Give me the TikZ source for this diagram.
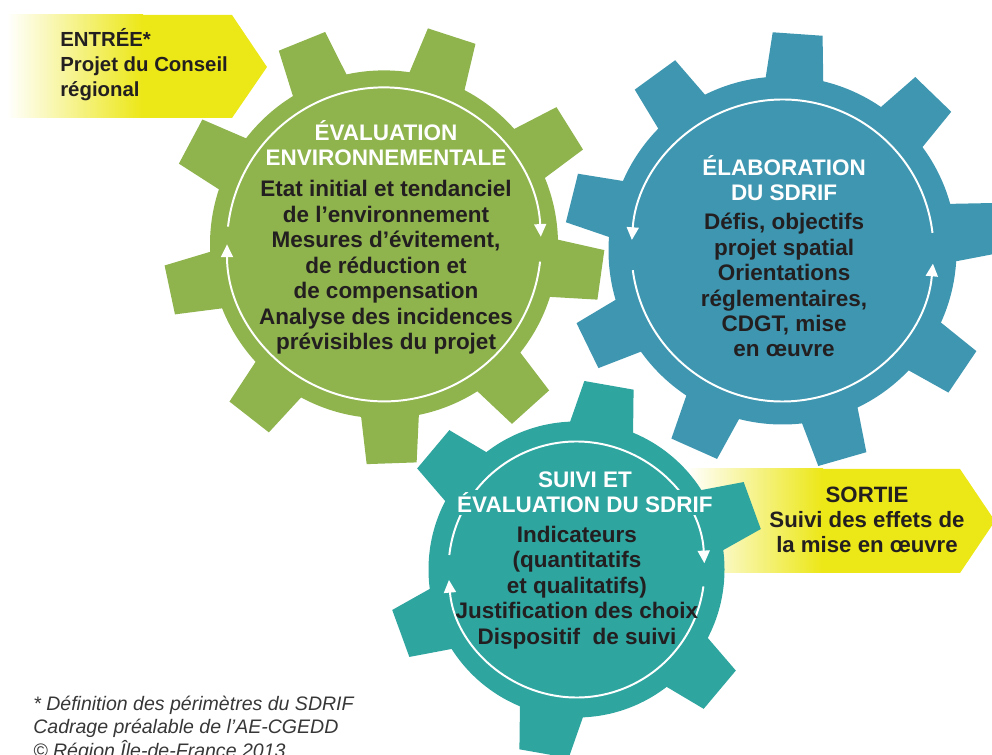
\documentclass[tikz,border=0pt]{standalone}
\usepackage{fontspec}
\setmainfont{Liberation Sans}
\usetikzlibrary{arrows.meta,positioning}

\definecolor{gearGreen}{RGB}{143,179,77}
\definecolor{gearBlue}{RGB}{62,150,176}
\definecolor{gearTeal}{RGB}{47,165,160}
\definecolor{arrowYellow}{RGB}{236,231,22}
\definecolor{textDark}{RGB}{35,31,32}
\definecolor{noteGray}{RGB}{55,55,55}

\tikzset{
  gear text/.style={font=\bfseries\fontsize{16}{18.1}\selectfont,
    align=center, inner sep=0pt, anchor=base},
  gear title/.style={gear text, text=white},
  gear body/.style={gear text, text=textDark},
  ring/.style={white, line width=1.4pt, -{Triangle[length=9pt,width=8.5pt]}},
  io text/.style={font=\bfseries\fontsize{14.5}{17.8}\selectfont,
    text=textDark, inner sep=0pt},
}

\begin{document}
\begin{tikzpicture}
\useasboundingbox (0,0) rectangle (24.8,18.85);
\clip (0,0) rectangle (24.8,18.85);

\coordinate (greenC) at ( 9.6   ,12.74  );
\coordinate (blueC)  at (19.5625,12.5875);
\coordinate (tealC)  at (14.4125, 4.6125);

% entry / exit arrows
\fill[arrowYellow]
    (0.175,18.475) -- (5.8,18.475) -- (6.675,17.175) -- (5.8,15.9) -- (0.175,15.9) -- cycle;
\shade[left color=white, right color=arrowYellow]
    (0.175,18.475) rectangle (3.575,15.9);
\fill[arrowYellow]
    (17.175,7.125) -- (24.0,7.125) -- (24.875,5.825) -- (24.0,4.525) -- (17.175,4.525) -- cycle;
\shade[left color=white, right color=arrowYellow]
    (17.175,7.125) rectangle (20.575,4.525);

% gears
\fill[gearGreen] (greenC) circle (4.35);
\foreach \a in {32,72,...,352}
  \fill[gearGreen, shift={(greenC)}, rotate=\a]
    (3.95,-.75) -- (5.475,-.625) -- (5.475,.625) -- (3.95,.75) -- cycle;

\fill[gearBlue] (blueC) circle (4.35);
\foreach \a in {6,46,...,326}
  \fill[gearBlue, shift={(blueC)}, rotate=\a]
    (3.95,-.75) -- (5.425,-.625) -- (5.425,.625) -- (3.95,.75) -- cycle;

\fill[gearTeal] (tealC) circle (3.7);
\foreach \a in {20,80,...,320}
  \fill[gearTeal, shift={(tealC)}, rotate=\a]
    (3.3,-.85) -- (4.675,-.625) -- (4.675,.625) -- (3.3,.85) -- cycle;

% rings
\draw[ring] (greenC) ++(173.5:3.925) arc[start angle=173.5, end angle=2.8,  radius=3.925];
\draw[ring] (greenC) ++( -6.3:3.925) arc[start angle=-6.3,  end angle=-180, radius=3.925];
\draw[ring] (blueC)  ++(  6.7:3.775) arc[start angle=6.7,   end angle=176,  radius=3.775];
\draw[ring] (blueC)  ++(187.5:3.775) arc[start angle=187.5, end angle=355,  radius=3.775];
\draw[ring] (tealC)  ++(173.5:3.2)   arc[start angle=173.5, end angle=2.8,  radius=3.2];
\draw[ring] (tealC)  ++( -7.6:3.2)   arc[start angle=-7.6,  end angle=-175.3, radius=3.2];

% texts (anchored on the last baseline)
\path (greenC)
    ++( .05, 1.9675) node [gear title] (evalTitle) {ÉVALUATION\\ENVIRONNEMENTALE}
    ++( 0  ,-4.595)  node [gear body]  (evalBody)  {Etat initial et tendanciel\\de l’environnement\\Mesures d’évitement,\\de réduction et\\de compensation\\Analyse des incidences\\prévisibles du projet};
\path (blueC)
    ++( .04, 1.2375) node [gear title] (elabTitle) {ÉLABORATION\\DU SDRIF}
    ++( 0  ,-3.9)    node [gear body]  (elabBody)  {Défis, objectifs\\projet spatial\\Orientations\\réglementaires,\\CDGT, mise\\en œuvre};
\path (tealC)
    ++( .21, 2.055) node [gear title] (suiviTitle) {SUIVI ET}
    ++( 0  ,- .625) node [gear title, fill=gearTeal, inner sep=1.5pt] (suiviTitleB) {ÉVALUATION DU SDRIF}
    ++(-.2 ,-3.3)   node [gear body]  (suiviBody) {Indicateurs\\(quantitatifs\\et qualitatifs)\\Justification des choix\\Dispositif\ \ de suivi};

\node [io text, align=left, anchor=base west] (entree) at (1.5,16.425)
    {ENTRÉE*\\Projet du Conseil\\régional};
\node [io text, font=\bfseries\fontsize{15.8}{17.8}\selectfont, align=center, anchor=base] (sortie) at (21.675,5.025)
    {SORTIE\\Suivi des effets de\\la mise en œuvre};

\node [font=\itshape\fontsize{13.9}{16.7}\selectfont, text=noteGray, align=left,
       inner sep=0pt, anchor=base west] (note) at (0.825,-0.075)
    {* Définition des périmètres du SDRIF\\Cadrage préalable de l’AE-CGEDD\\© Région Île-de-France 2013};
\end{tikzpicture}
\end{document}
